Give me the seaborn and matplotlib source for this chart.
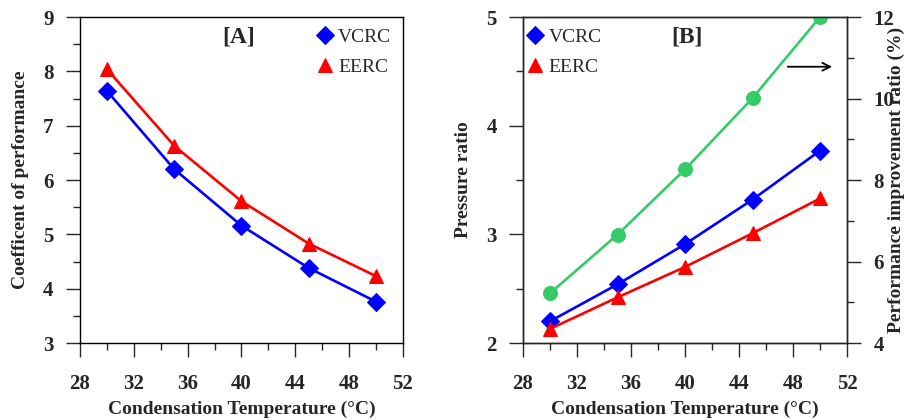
import numpy as np
import pandas as pd
import matplotlib
matplotlib.use("Agg")
import matplotlib.pyplot as plt
from matplotlib.ticker import MultipleLocator
import seaborn as sns

# condensation temperature (°C)
temps = [30, 35, 40, 45, 50]

# panel A - coefficient of performance
cop_vcrc = [7.64, 6.20, 5.16, 4.38, 3.76]
cop_eerc = [8.04, 6.63, 5.61, 4.83, 4.23]

# panel B - pressure ratio and performance improvement ratio (%)
pr_vcrc = [2.20, 2.54, 2.91, 3.32, 3.77]
pr_eerc = [2.13, 2.42, 2.70, 3.01, 3.33]
pir = [5.22, 6.66, 8.26, 10.01, 12.0]

BLUE = "#0000ff"
RED = "#ff0000"
GREEN = "#33cc66"

sns.set_style("ticks")
plt.rcParams['font.family'] = ['Liberation Serif', 'DejaVu Serif']
plt.rcParams['font.weight'] = 'bold'
plt.rcParams['axes.linewidth'] = 1.0
plt.rcParams['xtick.direction'] = 'out'
plt.rcParams['ytick.direction'] = 'out'

df_a = pd.DataFrame({"T": temps * 2,
                     "val": cop_vcrc + cop_eerc,
                     "cycle": ["VCRC"] * 5 + ["EERC"] * 5})
df_b = pd.DataFrame({"T": temps * 2,
                     "val": pr_vcrc + pr_eerc,
                     "cycle": ["VCRC"] * 5 + ["EERC"] * 5})
df_pir = pd.DataFrame({"T": temps, "pir": pir})

fig = plt.figure(figsize=(9.06, 4.2), dpi=100)
ax1 = fig.add_axes([0.0883, 0.1833, 0.3565, 0.7762])
ax2 = fig.add_axes([0.5773, 0.1833, 0.3576, 0.7762])

marker_kw = {"VCRC": dict(marker="D", ms=9), "EERC": dict(marker="^", ms=10)}
colors = {"VCRC": BLUE, "EERC": RED}


def style_axis(ax, ymin, ymax, ymaj, ymin_step):
    ax.set_xlim(28, 52)
    ax.set_ylim(ymin, ymax)
    ax.xaxis.set_major_locator(MultipleLocator(4))
    ax.xaxis.set_minor_locator(MultipleLocator(2))
    ax.yaxis.set_major_locator(MultipleLocator(ymaj))
    ax.yaxis.set_minor_locator(MultipleLocator(ymin_step))
    ax.tick_params(which='major', length=10, width=1.0, labelsize=15, pad=9)
    ax.tick_params(axis='x', which='major', pad=12)
    ax.tick_params(which='minor', length=5, width=1.0)
    for s in ax.spines.values():
        s.set_color("black")
    ax.set_xlabel("Condensation Temperature (°C)", fontsize=14, fontweight='bold', labelpad=5)


for ax, df in [(ax1, df_a), (ax2, df_b)]:
    for cyc in ["VCRC", "EERC"]:
        sub = df[df["cycle"] == cyc]
        sns.lineplot(data=sub, x="T", y="val", ax=ax, color=colors[cyc], lw=1.9,
                     markeredgecolor=colors[cyc], label=cyc, **marker_kw[cyc])

leg_kw = dict(frameon=False, handlelength=0, handletextpad=0.7,
              prop={'weight': 'normal', 'size': 14}, borderaxespad=0.2, labelspacing=0.6)

style_axis(ax1, 3, 9, 1, 0.5)
ax1.set_ylabel("Coefficent of performance", fontsize=14, fontweight='bold', labelpad=10)
ax1.legend(loc="upper right", **leg_kw)
ax1.text(0.49, 0.94, "[A]", transform=ax1.transAxes, ha="center", va="center",
         fontsize=17, fontweight="bold")

style_axis(ax2, 2, 5, 1, 0.5)
ax2.set_ylabel("Pressure ratio", fontsize=14, fontweight='bold', labelpad=10)
ax2.legend(loc="upper left", **leg_kw)
ax2.text(0.506, 0.94, "[B]", transform=ax2.transAxes, ha="center", va="center",
         fontsize=17, fontweight="bold")

ax3 = ax2.twinx()
sns.lineplot(data=df_pir, x="T", y="pir", ax=ax3, color=GREEN, lw=1.9,
             marker="o", ms=10, markeredgecolor=GREEN, legend=False)
ax3.set_ylim(4, 12)
ax3.yaxis.set_major_locator(MultipleLocator(2))
ax3.yaxis.set_minor_locator(MultipleLocator(1))
ax3.tick_params(which='major', length=10, width=1.0, labelsize=15, pad=9)
ax3.tick_params(which='minor', length=5, width=1.0)
ax3.set_ylabel("Performance improvement ratio (%)", fontsize=14, fontweight='bold', labelpad=-5)
ax3.set_xlabel("")
ax3.annotate("", xy=(51.1, 10.78), xytext=(47.4, 10.78),
             arrowprops=dict(arrowstyle="->", color="black", lw=1.3, mutation_scale=14))

fig.savefig("out.png", dpi=100)
